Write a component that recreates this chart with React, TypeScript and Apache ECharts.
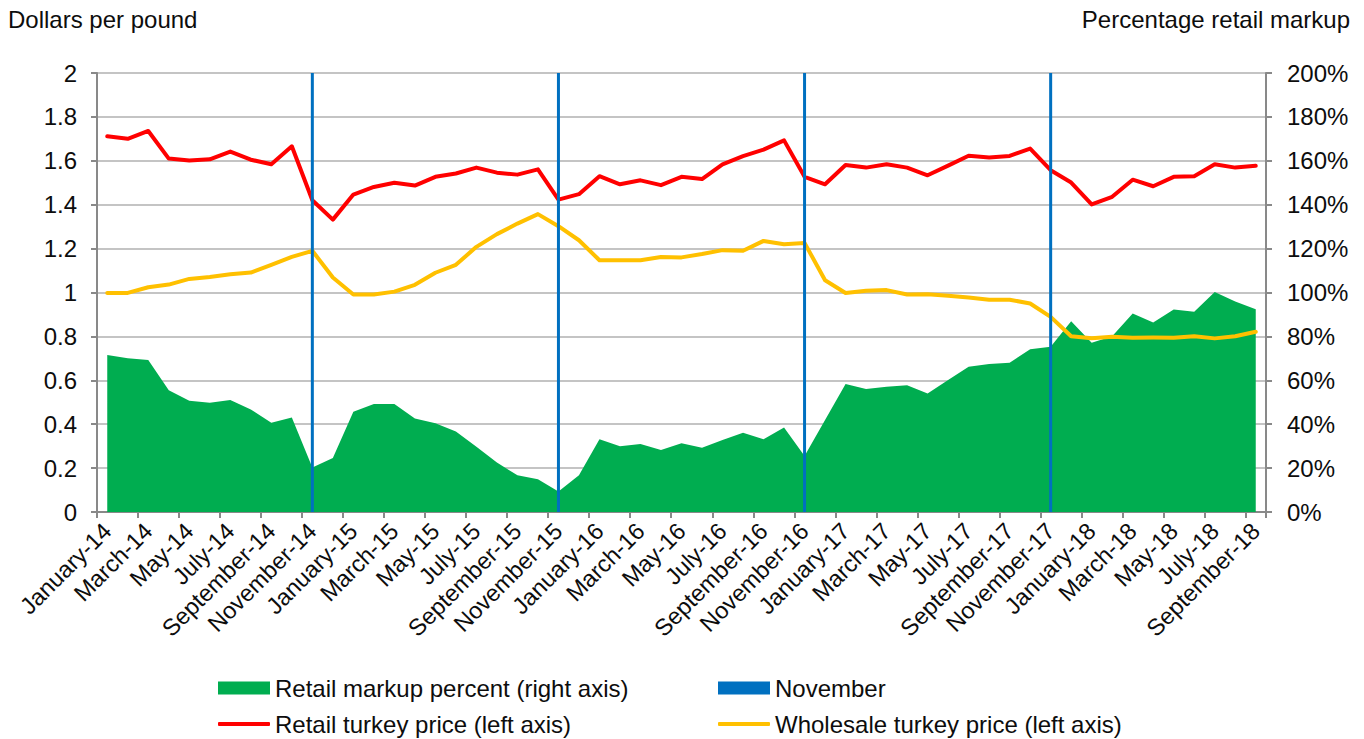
import React, { useEffect, useRef } from "react";
import * as echarts from "echarts";

const monthNames = ["January", "February", "March", "April", "May", "June", "July", "August", "September", "October", "November", "December"];
const years = ["14", "15", "16", "17", "18"];
const monthCount = 57; // January-14 .. September-18

const categories: string[] = [];
for (let i = 0; i < monthCount; i++) {
  categories.push(monthNames[i % 12] + "-" + years[Math.floor(i / 12)]);
}

const retailPrice = [
  1.712, 1.7, 1.736, 1.61, 1.601, 1.607, 1.642, 1.605, 1.584, 1.666,
  1.42, 1.332, 1.446, 1.481, 1.5, 1.487, 1.527, 1.542, 1.569, 1.546,
  1.537, 1.561, 1.423, 1.448, 1.53, 1.493, 1.511, 1.489, 1.527, 1.517,
  1.584, 1.621, 1.651, 1.693, 1.527, 1.493, 1.581, 1.569, 1.584, 1.569,
  1.534, 1.578, 1.623, 1.615, 1.622, 1.656, 1.557, 1.501, 1.401, 1.436,
  1.514, 1.484, 1.527, 1.53, 1.584, 1.569, 1.577,
];

const wholesalePrice = [
  0.998, 0.998, 1.024, 1.036, 1.062, 1.071, 1.083, 1.091, 1.126, 1.162,
  1.19, 1.068, 0.991, 0.991, 1.004, 1.035, 1.09, 1.126, 1.208, 1.266,
  1.314, 1.357, 1.302, 1.238, 1.147, 1.147, 1.147, 1.162, 1.16, 1.175,
  1.193, 1.19, 1.235, 1.22, 1.226, 1.056, 0.998, 1.008, 1.011, 0.991,
  0.992, 0.985, 0.977, 0.967, 0.967, 0.95, 0.889, 0.801, 0.792, 0.798,
  0.794, 0.795, 0.794, 0.801, 0.791, 0.801, 0.821,
];

const markupPercent = [
  71.5, 70.0, 69.2, 55.5, 50.7, 49.8, 51.0, 46.7, 40.7, 43.1,
  20.3, 24.6, 45.7, 49.2, 49.2, 42.6, 40.4, 36.7, 29.7, 22.5,
  16.7, 14.9, 9.3, 16.7, 33.1, 30.0, 31.0, 28.2, 31.3, 29.3,
  32.8, 36.1, 33.2, 38.5, 25.5, 41.9, 58.3, 56.0, 57.1, 57.7,
  54.0, 60.1, 66.2, 67.4, 68.0, 74.1, 75.3, 86.9, 77.1, 80.1,
  90.4, 86.3, 92.3, 91.2, 100.2, 95.9, 92.4,
];

const novemberMarker = categories.map((c) => (c.startsWith("November") ? 200 : null));

const FONT = "'Liberation Sans', Arial, sans-serif";
const TEXT = "#0d0d0d";
const AXIS = "#898989";
const GRID = "#c4c4c4";

const legendText = { fontSize: 24, color: TEXT, fontFamily: FONT };

function legendItem(name: string, left: number, top: number, icon: string, h: number) {
  return {
    orient: "horizontal",
    left,
    top,
    padding: 0,
    itemWidth: 52,
    itemHeight: h,
    icon,
    textStyle: legendText,
    data: [name],
  };
}

export default function App() {
  const ref = useRef<HTMLDivElement>(null);
  useEffect(() => {
    if (!ref.current) return;
    const chart = echarts.init(ref.current, undefined, { renderer: "svg" });
    chart.setOption({
      animation: false,
      backgroundColor: "#ffffff",
      textStyle: { fontFamily: FONT },
      title: [
        { text: "Dollars per pound", left: 8, top: 7, padding: 0, textStyle: { fontSize: 24, fontWeight: "normal", color: TEXT, fontFamily: FONT } },
        { text: "Percentage retail markup", right: 14, top: 7, padding: 0, textStyle: { fontSize: 24, fontWeight: "normal", color: TEXT, fontFamily: FONT } },
      ],
      legend: [
        legendItem("Retail markup percent (right axis)", 218, 676, "rect", 13),
        legendItem("November", 718, 676, "rect", 13),
        legendItem("Retail turkey price (left axis)", 218, 712, "roundRect", 4),
        legendItem("Wholesale turkey price (left axis)", 718, 712, "roundRect", 4),
      ],
      grid: { left: 97, right: 98, top: 73, bottom: 227, containLabel: false },
      xAxis: {
        type: "category",
        data: categories,
        boundaryGap: true,
        axisLine: { show: true, lineStyle: { color: AXIS, width: 2 } },
        axisTick: { show: true, interval: 1, length: 6, lineStyle: { color: AXIS, width: 2 } },
        axisLabel: { interval: 1, rotate: 45, margin: 15, fontSize: 23.5, color: TEXT, fontFamily: FONT },
        splitLine: { show: false },
      },
      yAxis: [
        {
          type: "value",
          min: 0,
          max: 2,
          interval: 0.2,
          axisLine: { show: true, lineStyle: { color: AXIS, width: 2 } },
          axisTick: { show: true, length: 6, lineStyle: { color: AXIS, width: 2 } },
          axisLabel: { margin: 20, fontSize: 24, color: TEXT, fontFamily: FONT, formatter: (v: number) => String(Math.round(v * 10) / 10) },
          splitLine: { show: true, lineStyle: { color: GRID, width: 2 } },
        },
        {
          type: "value",
          min: 0,
          max: 200,
          interval: 20,
          position: "right",
          axisLine: { show: true, lineStyle: { color: AXIS, width: 2 } },
          axisTick: { show: true, length: 6, lineStyle: { color: AXIS, width: 2 } },
          axisLabel: { margin: 21, fontSize: 24, color: TEXT, fontFamily: FONT, formatter: "{value}%" },
          splitLine: { show: false },
        },
      ],
      series: [
        {
          name: "Retail markup percent (right axis)",
          type: "line",
          yAxisIndex: 1,
          data: markupPercent,
          symbol: "none",
          lineStyle: { width: 0, color: "#00ad50" },
          itemStyle: { color: "#00ad50" },
          areaStyle: { color: "#00ad50", opacity: 1 },
          z: 1,
        },
        {
          name: "November",
          type: "bar",
          yAxisIndex: 1,
          data: novemberMarker,
          barWidth: 3,
          itemStyle: { color: "#0070c0" },
          z: 5,
        },
        {
          name: "Retail turkey price (left axis)",
          type: "line",
          yAxisIndex: 0,
          data: retailPrice,
          symbol: "none",
          lineStyle: { width: 4, color: "#ff0000", cap: "round", join: "round" },
          itemStyle: { color: "#ff0000" },
          z: 3,
        },
        {
          name: "Wholesale turkey price (left axis)",
          type: "line",
          yAxisIndex: 0,
          data: wholesalePrice,
          symbol: "none",
          lineStyle: { width: 4, color: "#ffc000", cap: "round", join: "round" },
          itemStyle: { color: "#ffc000" },
          z: 3,
        },
      ],
    });
    return () => chart.dispose();
  }, []);
  return <div ref={ref} style={{ position: "fixed", left: 0, top: 0, width: 1364, height: 739, background: "#fff" }} />;
}
